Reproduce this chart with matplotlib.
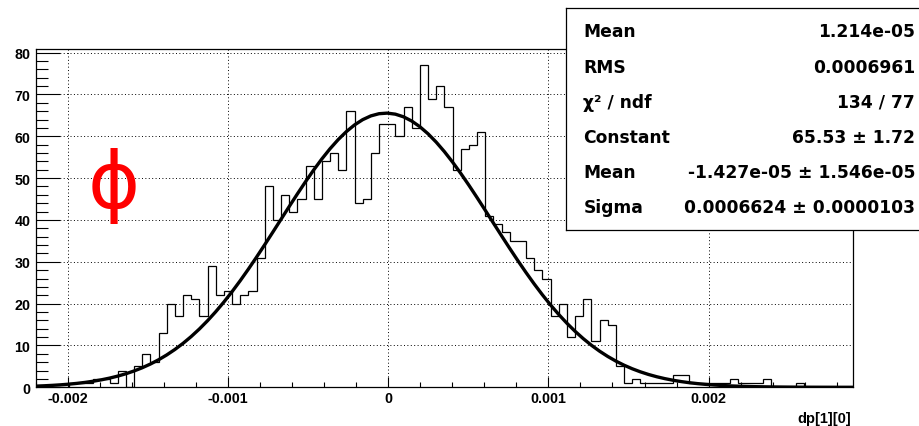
import matplotlib
matplotlib.use("Agg")
import matplotlib.pyplot as plt
import numpy as np
from matplotlib.ticker import MultipleLocator, FuncFormatter

plt.rcParams["font.family"] = ["Liberation Sans", "DejaVu Sans"]
plt.rcParams["font.weight"] = "bold"

# histogram of dp[1][0]: 100 equal bins on [x_lo, x_hi]
x_lo, x_hi = -0.0022, 0.0029
counts = [
    0, 0, 0, 0, 1, 1, 1, 2, 2, 1,
    4, 0, 5, 8, 6, 13, 20, 17, 22, 21,
    17, 29, 22, 23, 20, 22, 23, 31, 48, 40,
    46, 42, 45, 53, 45, 54, 56, 52, 66, 44,
    45, 56, 63, 63, 60, 67, 62, 77, 69, 72,
    67, 52, 57, 58, 61, 41, 39, 37, 35, 35,
    31, 28, 26, 17, 20, 12, 17, 21, 11, 16,
    15, 5, 1, 2, 1, 1, 1, 1, 3, 3,
    1, 1, 1, 1, 1, 2, 1, 1, 1, 2,
    0, 0, 0, 1, 0, 0, 0, 0, 0, 0,
]

# gaussian fit parameters (from the stats box)
fit_const = 65.53
fit_mean = -1.427e-05
fit_sigma = 0.0006624

stat_names = ["Mean", "RMS", "χ² / ndf", "Constant", "Mean", "Sigma"]
stat_values = [
    "1.214e-05",
    "0.0006961",
    "134 / 77",
    "65.53 ± 1.72",
    "-1.427e-05 ± 1.546e-05",
    "0.0006624 ± 0.0000103",
]

W, H = 919, 427
fig = plt.figure(figsize=(W / 100, H / 100), dpi=100)
ax = fig.add_axes([36 / W, 1 - 388.3 / H, (852.7 - 36) / W, (388.3 - 50) / H])

edges = np.linspace(x_lo, x_hi, len(counts) + 1)
ax.stairs(counts, edges, color="black", lw=0.9, zorder=3)

xf = np.linspace(x_lo, x_hi, 101)
yf = fit_const * np.exp(-0.5 * ((xf - fit_mean) / fit_sigma) ** 2)
ax.plot(xf, yf, color="black", lw=2.4, zorder=4)

ax.set_xlim(x_lo, x_hi)
ax.set_ylim(0, 80.85)
ax.xaxis.set_major_locator(MultipleLocator(0.001))
ax.xaxis.set_minor_locator(MultipleLocator(0.0002))
ax.yaxis.set_major_locator(MultipleLocator(10))
ax.yaxis.set_minor_locator(MultipleLocator(2))
ax.xaxis.set_major_formatter(FuncFormatter(lambda v, p: f"{round(v, 6) + 0:g}"))
ax.yaxis.set_major_formatter(FuncFormatter(lambda v, p: f"{v:.0f}"))

ax.tick_params(axis="x", which="major", direction="in", length=7, width=0.8, pad=3, labelsize=10.3)
ax.tick_params(axis="x", which="minor", direction="in", length=3.6, width=0.8)
ax.tick_params(axis="y", which="major", direction="in", length=17, width=0.8, pad=4, labelsize=10.3)
ax.tick_params(axis="y", which="minor", direction="in", length=8.5, width=0.8)
for s in ax.spines.values():
    s.set_linewidth(0.9)

ax.grid(True, which="major", color="black", linestyle=(0, (1, 2.5)), lw=0.7, zorder=1)
ax.set_axisbelow(True)

ax.text(0.0955, 0.598, "\u03d5", transform=ax.transAxes, color="red",
        fontsize=57, family="DejaVu Sans", weight="normal", ha="center", va="center")

fig.text(851 / W, 1 - 419 / H, "dp[1][0]", ha="right", va="center", fontsize=10.5)

# stats box
sb = fig.add_axes([566 / W, 1 - 230.7 / H, (W + 20 - 566) / W, (230.7 - 9.3) / H])
sb.set_facecolor("white")
sb.set_xticks([])
sb.set_yticks([])
for s in sb.spines.values():
    s.set_linewidth(0.9)
for i, (name, val) in enumerate(zip(stat_names, stat_values)):
    yb = 1 - (37.3 + 35.24 * i) / H
    fig.text(583.3 / W, yb, name, ha="left", va="baseline",
             fontsize=12.3, family="DejaVu Sans", weight="bold")
    fig.text(915 / W, yb, val, ha="right", va="baseline",
             fontsize=12.3, family="DejaVu Sans", weight="bold")

fig.savefig("out.png", dpi=100)
